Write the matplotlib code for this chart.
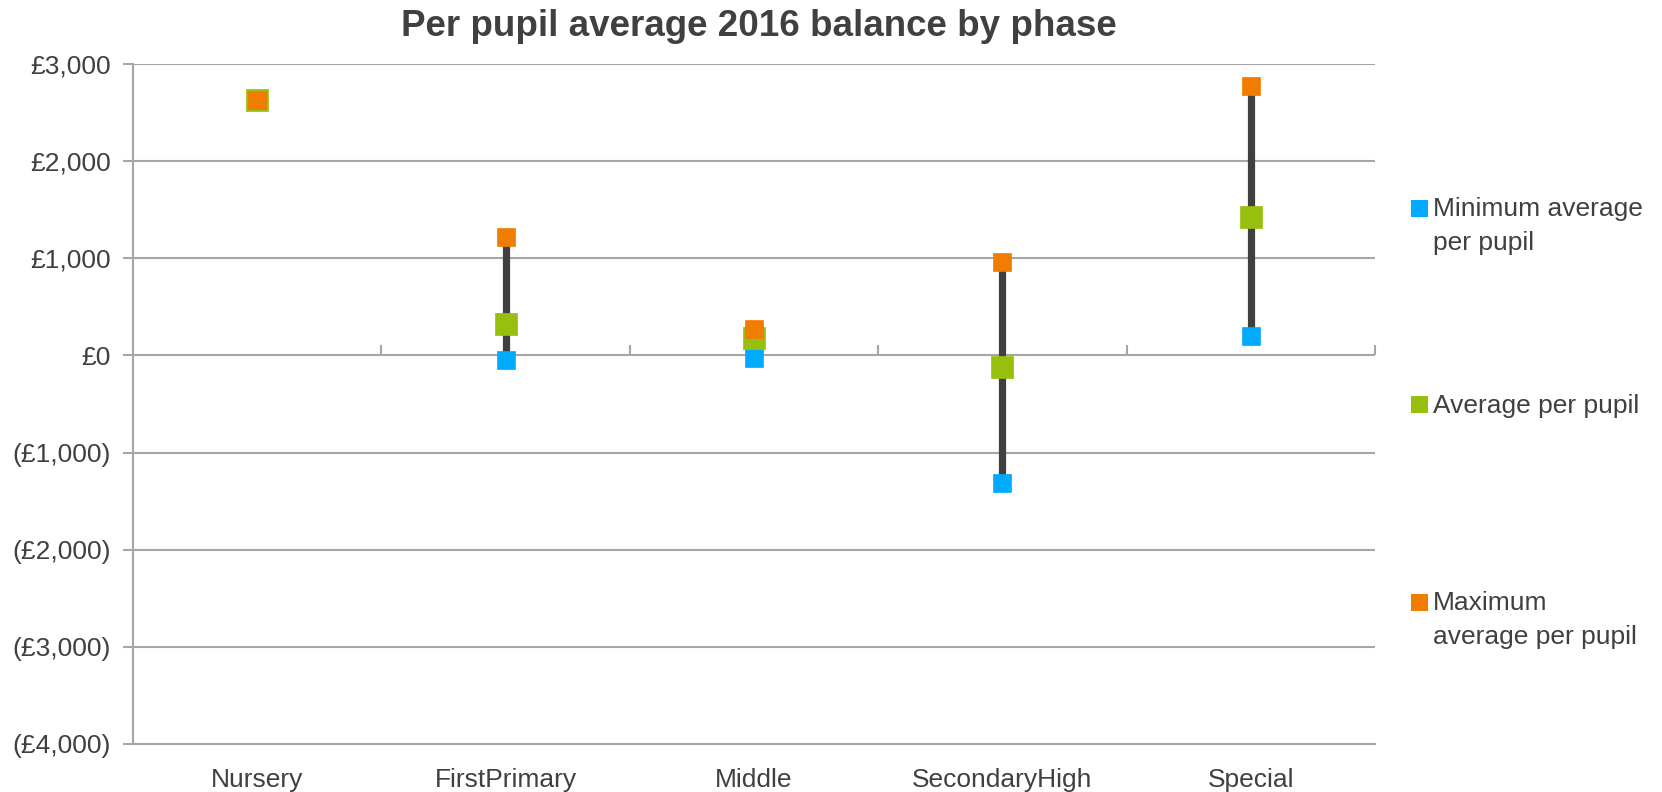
import matplotlib

matplotlib.use("Agg")
import matplotlib.pyplot as plt
from matplotlib.patches import Rectangle
from matplotlib.ticker import FuncFormatter
import numpy as np

plt.rcParams["font.family"] = ["Liberation Sans", "DejaVu Sans"]

phases = ["Nursery", "FirstPrimary", "Middle", "SecondaryHigh", "Special"]
min_avg = [2626, -48, -25, -1317, 195]
avg = [2626, 325, 178, -123, 1424]
max_avg = [2626, 1215, 268, 961, 2772]

series_labels = ["Minimum average\nper pupil", "Average per pupil", "Maximum\naverage per pupil"]

COLOR_MIN = "#00AAFF"
COLOR_AVG = "#97BF0D"
COLOR_MAX = "#F07C00"
TEXT = "#404040"
GRID = "#A6A6A6"

W, H = 1662, 792
fig = plt.figure(figsize=(W / 100, H / 100), dpi=100)
ax = fig.add_axes([133 / W, 48 / H, (1375 - 133) / W, (744 - 64) / H])

x = np.arange(len(phases))

ax.vlines(x, min_avg, max_avg, color="#404040", lw=5.2, zorder=3)
ax.plot(x, min_avg, "s", ls="none", ms=13, color=COLOR_MIN, mec=COLOR_MIN, mew=0.5, zorder=4)
ax.plot(x, avg, "s", ls="none", ms=16.5, color=COLOR_AVG, mec=COLOR_AVG, mew=0.5, zorder=5)
ax.plot(x, max_avg, "s", ls="none", ms=13, color=COLOR_MAX, mec=COLOR_MAX, mew=0.5, zorder=6)

ax.set_xlim(-0.5, len(phases) - 0.5)
ax.set_ylim(-4000, 3000)
ax.set_yticks(np.arange(-4000, 3001, 1000))


def money(v, pos):
    if v < 0:
        return f"(£{abs(v):,.0f})"
    return f"£{v:,.0f}"


ax.yaxis.set_major_formatter(FuncFormatter(money))
ax.grid(axis="y", color=GRID, lw=1.5, zorder=0)
ax.set_axisbelow(True)

for s in ["top", "right"]:
    ax.spines[s].set_visible(False)
ax.spines["left"].set_color(GRID)
ax.spines["left"].set_linewidth(1.5)
ax.spines["bottom"].set_color(GRID)
ax.spines["bottom"].set_linewidth(1.5)

ax.set_xticks(x)
ax.set_xticklabels(phases)
ax.tick_params(axis="x", length=0, pad=17, labelsize=19, labelcolor=TEXT)
ax.tick_params(axis="y", length=7, width=1.5, color=GRID, pad=9, labelsize=19, labelcolor=TEXT)

# category separator ticks on the zero line
sec = ax.secondary_xaxis(4 / 7)
sec.set_xticks(np.arange(len(phases)) + 0.5)
sec.set_xticklabels([])
sec.tick_params(axis="x", direction="out", length=7, width=1.5, color=GRID)
sec.spines["bottom"].set_visible(False)
sec.spines["top"].set_visible(False)

fig.text(759 / W, 1 - 27 / H, "Per pupil average 2016 balance by phase",
         ha="center", va="center", fontsize=26.5, fontweight="bold", color=TEXT)

# legend drawn by hand so the swatch sits beside the first line
legend_y = [208, 405, 602]
for lab, col, yc in zip(series_labels, [COLOR_MIN, COLOR_AVG, COLOR_MAX], legend_y):
    fig.add_artist(Rectangle((1411 / W, 1 - (yc + 8.5) / H), 17 / W, 17 / H,
                             transform=fig.transFigure, color=col, lw=0))
    fig.text(1433 / W, 1 - (yc - 11) / H, lab, ha="left", va="top",
             fontsize=19, color=TEXT, linespacing=1.55)

fig.savefig("out.png", dpi=100)
